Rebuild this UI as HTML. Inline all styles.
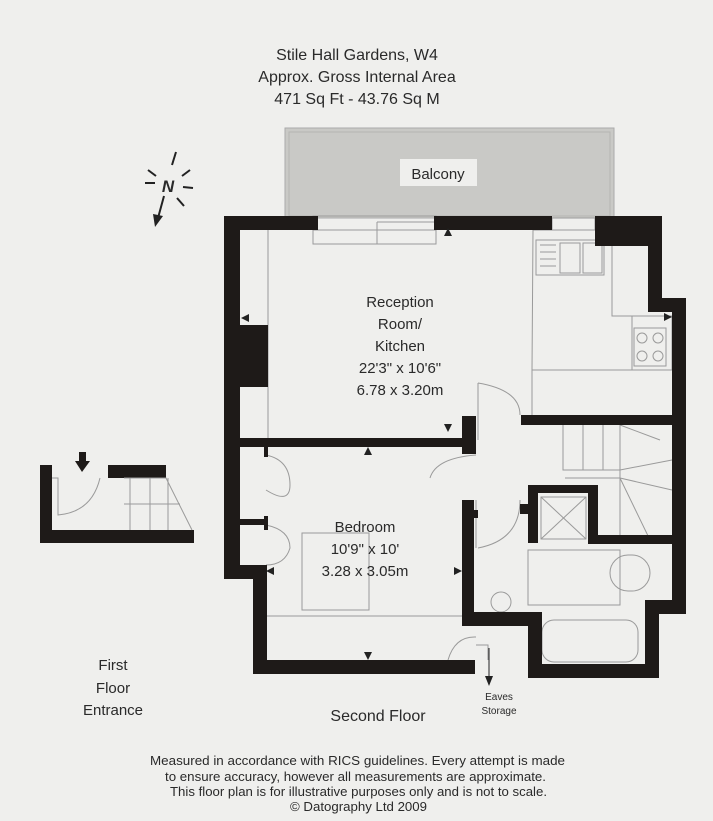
<!DOCTYPE html>
<html><head><meta charset="utf-8"><style>
html,body{margin:0;padding:0;background:#efefed;}
svg{display:block}
text{font-family:"Liberation Sans",sans-serif;fill:#2a2a2a}
</style></head><body>
<svg width="713" height="821" viewBox="0 0 713 821" xmlns="http://www.w3.org/2000/svg">
<rect width="713" height="821" fill="#efefed"/>
<g text-anchor="middle" font-size="16">
<text x="357" y="60">Stile Hall Gardens, W4</text>
<text x="357" y="82">Approx. Gross Internal Area</text>
<text x="357" y="104">471 Sq Ft  -  43.76 Sq M</text>
</g>
<!-- balcony -->
<rect x="285" y="128" width="329" height="90" fill="#c9c9c6" stroke="#aaa" stroke-width="1"/>
<rect x="289" y="132" width="321" height="84" fill="none" stroke="#b5b5b2" stroke-width="1"/>
<rect x="400" y="159" width="77" height="27" fill="#efefed"/>
<text x="438" y="179" font-size="15" text-anchor="middle">Balcony</text>
<!-- north -->
<g stroke="#222" stroke-width="2" fill="none">
<line x1="176" y1="152" x2="172" y2="165"/>
<line x1="145" y1="183" x2="155" y2="183"/><line x1="183" y1="187" x2="193" y2="188"/>
<line x1="148" y1="170" x2="156" y2="176"/><line x1="182" y1="176" x2="190" y2="170"/>
<line x1="177" y1="198" x2="184" y2="206"/>
<line x1="164" y1="196" x2="158" y2="218"/>
</g>
<polygon points="153,214 163,216 155,227" fill="#222"/>
<text x="168" y="192" font-size="17" font-style="italic" text-anchor="middle" font-weight="bold">N</text>
<!-- fixtures light lines -->
<g stroke="#9a9a9a" stroke-width="1" fill="none">
<rect x="313" y="216" width="123" height="28"/>
<line x1="313" y1="230" x2="436" y2="230"/>
<line x1="377" y1="222" x2="436" y2="222"/>
<line x1="377" y1="222" x2="377" y2="244"/>
<rect x="552" y="218" width="43" height="12"/>
<path d="M533 230 H606 V245 H612 V316 H632 V370 H532 Z"/>
<rect x="536" y="240" width="68" height="35"/>
<rect x="560" y="243" width="20" height="30"/><rect x="583" y="243" width="19" height="30"/>
<line x1="540" y1="245" x2="556" y2="245"/><line x1="540" y1="252" x2="556" y2="252"/><line x1="540" y1="259" x2="556" y2="259"/><line x1="540" y1="266" x2="556" y2="266"/>
<path d="M632 316 H672 V370 H632"/>
<rect x="634" y="328" width="32" height="38"/>
<circle cx="642" cy="338" r="5"/><circle cx="658" cy="338" r="5"/><circle cx="642" cy="356" r="5"/><circle cx="658" cy="356" r="5"/>
<path d="M532 370 V415"/>
<line x1="268" y1="230" x2="268" y2="438"/>
<!-- doors -->
<path d="M478 383 Q520 390 520 415"/><line x1="478" y1="383" x2="478" y2="440"/>
<path d="M476 455 Q436 458 430 478"/>
<path d="M478 548 Q520 540 520 500"/><line x1="476" y1="500" x2="476" y2="548"/>
<!-- bedroom wardrobes -->
<path d="M266 455 Q290 460 290 485 Q290 505 266 490"/>
<path d="M266 525 Q290 530 290 548 Q285 565 266 565"/>
<rect x="302" y="533" width="67" height="77"/>
<line x1="266" y1="616" x2="464" y2="616"/>
<!-- stairs -->
<path d="M563 425 V470 H620 V425"/>
<line x1="583" y1="425" x2="583" y2="470"/><line x1="603" y1="425" x2="603" y2="470"/>
<line x1="565" y1="478" x2="620" y2="478"/>
<path d="M620 425 L660 440 M620 470 L672 460 M620 478 L672 490 M620 478 L650 540 M620 470 L620 540"/>
<!-- shower -->
<rect x="541" y="497" width="45" height="42"/>
<line x1="541" y1="497" x2="586" y2="539"/><line x1="586" y1="497" x2="541" y2="539"/>
<!-- bath room -->
<rect x="528" y="550" width="92" height="55"/>
<rect x="610" y="555" width="40" height="36" rx="18"/>
<rect x="542" y="620" width="96" height="42" rx="12"/>
<circle cx="501" cy="602" r="10"/>
<path d="M448 660 Q455 636 476 637"/>
<path d="M476 645 H488 V660"/>
</g>
<!-- walls -->
<g fill="#1e1a18">
<rect x="224" y="216" width="94" height="14"/>
<rect x="434" y="216" width="118" height="14"/>
<rect x="595" y="216" width="67" height="30"/>
<rect x="648" y="216" width="14" height="96"/>
<rect x="648" y="298" width="38" height="14"/>
<rect x="672" y="298" width="14" height="316"/>
<rect x="657" y="600" width="29" height="14"/>
<rect x="645" y="600" width="14" height="78"/>
<rect x="528" y="664" width="131" height="14"/>
<rect x="528" y="612" width="14" height="66"/>
<rect x="462" y="612" width="80" height="14"/>
<rect x="462" y="500" width="12" height="126"/>
<rect x="462" y="510" width="16" height="8"/>
<rect x="224" y="216" width="16" height="362"/>
<rect x="224" y="565" width="42" height="14"/>
<rect x="253" y="565" width="14" height="108"/>
<rect x="253" y="660" width="222" height="14"/>
<rect x="240" y="325" width="28" height="62"/>
<rect x="240" y="438" width="226" height="9"/>
<rect x="462" y="416" width="14" height="38"/>
<rect x="521" y="415" width="151" height="10"/>
<rect x="264" y="447" width="4" height="10"/>
<rect x="240" y="519" width="28" height="6"/>
<rect x="264" y="516" width="4" height="14"/>
<rect x="528" y="485" width="70" height="8"/>
<rect x="528" y="485" width="10" height="58"/>
<rect x="520" y="504" width="18" height="10"/>
<rect x="588" y="485" width="10" height="52"/>
<rect x="588" y="535" width="84" height="9"/>
<rect x="40" y="465" width="12" height="78"/>
<rect x="40" y="530" width="154" height="13"/>
<rect x="108" y="465" width="58" height="13"/>
<rect x="79" y="452" width="7" height="10"/>
</g>
<polygon points="75,461 90,461 82,472" fill="#1e1a18"/>
<g stroke="#9a9a9a" fill="none">
<path d="M52 478 H58 V515 Q92 512 100 478"/>
<path d="M124 478 H166 L192 530"/>
<line x1="130" y1="478" x2="130" y2="530"/><line x1="150" y1="478" x2="150" y2="530"/><line x1="168" y1="478" x2="168" y2="530"/>
<line x1="124" y1="504" x2="180" y2="504"/>
</g>
<g fill="#222">
<polygon points="448,228 452,236 444,236"/><polygon points="448,432 452,424 444,424"/>
<polygon points="368,447 372,455 364,455"/><polygon points="368,660 372,652 364,652"/>
<polygon points="241,318 249,314 249,322"/><polygon points="672,317 664,313 664,321"/>
<polygon points="266,571 274,567 274,575"/><polygon points="462,571 454,567 454,575"/>
<polygon points="489,686 493,676 485,676"/>
</g>
<line x1="489" y1="648" x2="489" y2="680" stroke="#222"/>
<g text-anchor="middle" font-size="15">
<text x="400" y="307">Reception</text>
<text x="400" y="329">Room/</text>
<text x="400" y="351">Kitchen</text>
<text x="400" y="373">22'3" x 10'6"</text>
<text x="400" y="395">6.78 x 3.20m</text>
<text x="365" y="532">Bedroom</text>
<text x="365" y="554">10'9" x 10'</text>
<text x="365" y="576">3.28 x 3.05m</text>
<text x="113" y="670">First</text>
<text x="113" y="693">Floor</text>
<text x="113" y="715">Entrance</text>
<text x="378" y="721" font-size="16">Second Floor</text>
</g>
<g text-anchor="middle" font-size="10">
<text x="499" y="700">Eaves</text><text x="499" y="714">Storage</text>
</g>
<g font-size="12.5">
<text x="150" y="765" textLength="415" lengthAdjust="spacingAndGlyphs">Measured in accordance with RICS guidelines. Every attempt is made</text>
<text x="165" y="781" textLength="381" lengthAdjust="spacingAndGlyphs">to ensure accuracy, however all measurements are approximate.</text>
<text x="170" y="796" textLength="377" lengthAdjust="spacingAndGlyphs">This floor plan is for illustrative purposes only and is not to scale.</text>
<text x="290" y="811" textLength="137" lengthAdjust="spacingAndGlyphs">© Datography Ltd 2009</text>
</g>
</svg>
</body></html>
